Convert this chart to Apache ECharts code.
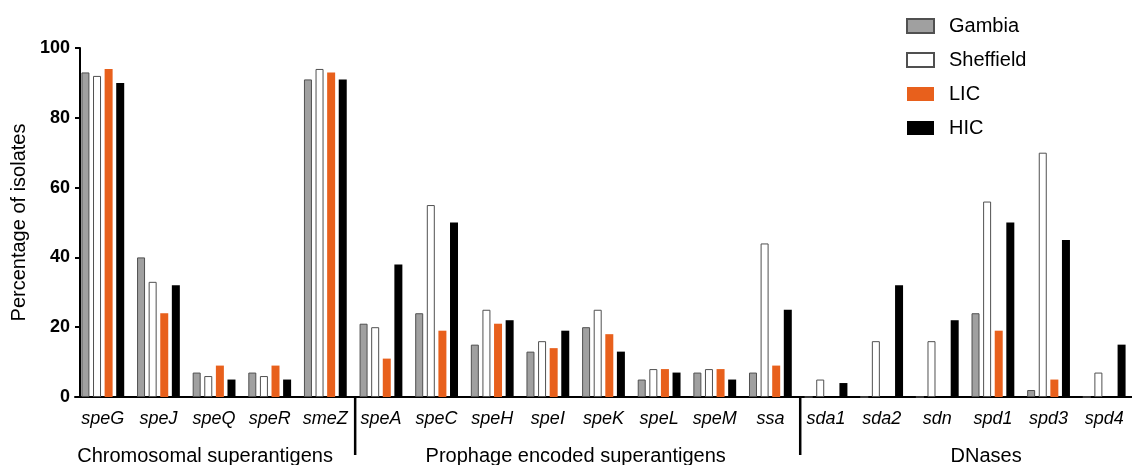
<!DOCTYPE html>
<html><head><meta charset="utf-8">
<script src="https://cdn.jsdelivr.net/npm/echarts@6/dist/echarts.min.js"></script>
<style>html,body{margin:0;padding:0;background:#fff}#c{width:1132px;height:465px}</style>
</head><body><div id="c"></div>
<script>
const categories = ['speG','speJ','speQ','speR','smeZ','speA','speC','speH','speI','speK','speL','speM','ssa','sda1','sda2','sdn','spd1','spd3','spd4'];
const gambia    = [93,40,7,7,91,21,24,15,13,20,5,7,7,0,0,0,24,2,0];
const sheffield = [92,33,6,6,94,20,55,25,16,25,8,8,44,5,16,16,56,70,7];
const lic       = [94,24,9,9,93,11,19,21,14,18,8,8,9,0,0,0,19,5,0];
const hic       = [90,32,5,5,91,38,50,22,19,13,7,5,25,4,32,22,50,45,15];
const yTicks = [0,20,40,60,80,100];
const groupNames = ['Chromosomal superantigens','Prophage encoded superantigens','DNases'];
const groupFrom = [0,5,13];
const groupTo = [4,12,18];
const groupDx = [-9,0,21];

const FONT = "'Liberation Sans', Arial, sans-serif";
const chart = echarts.init(document.getElementById('c'));
function mk(name, data, style){
  return {name, type:'bar', data, barWidth:8, barGap:'45%', itemStyle:style, animation:false};
}
chart.setOption({
  animation:false,
  textStyle:{fontFamily:FONT},
  grid:{left:75, top:48, bottom:68, width:1061, containLabel:false},
  legend:{orient:'vertical', left:901, top:11, itemWidth:27, itemHeight:14, itemGap:14,
    icon:'rect', textStyle:{fontSize:20, color:'#000', fontFamily:FONT, padding:[0,0,0,10]},
    data:['Gambia','Sheffield','LIC','HIC']},
  xAxis:{type:'category', data:categories,
    axisLine:{lineStyle:{color:'#000', width:2}},
    axisTick:{alignWithLabel:true, length:7, lineStyle:{color:'#000', width:2}},
    axisLabel:{fontSize:18, fontStyle:'italic', color:'#000', margin:13, interval:0, fontFamily:FONT}},
  yAxis:{type:'value', min:0, max:100, interval:20, offset:-5,
    name:'Percentage of isolates', nameLocation:'middle', nameGap:42, nameRotate:90,
    nameTextStyle:{fontSize:20, color:'#000', fontFamily:FONT},
    axisLine:{show:true, lineStyle:{color:'#000', width:2}},
    axisTick:{show:true, length:5, lineStyle:{color:'#000', width:2}},
    splitLine:{show:false},
    axisLabel:{fontSize:18, fontWeight:'bold', color:'#000', margin:10, fontFamily:FONT,
      formatter:v=>yTicks.includes(v)?String(v):''}},
  series:[
    mk('Gambia', gambia, {color:'#a0a0a0', borderColor:'#505050', borderWidth:1}),
    mk('Sheffield', sheffield, {color:'#ffffff', borderColor:'#505050', borderWidth:1}),
    mk('LIC', lic, {color:'#e8601c'}),
    mk('HIC', hic, {color:'#000000'})
  ]
});
const y0 = chart.convertToPixel({yAxisIndex:0}, 0);
const px = i => chart.convertToPixel({xAxisIndex:0}, i);
const g = [];
for (let k=0;k<groupNames.length;k++){
  const cx = (px(groupFrom[k]) + px(groupTo[k]))/2 + groupDx[k];
  g.push({type:'text', x:cx, y:y0+59, style:{text:groupNames[k], font:'20px '+FONT, fill:'#000', align:'center', verticalAlign:'middle'}});
  if (k>0){
    const bx = (px(groupFrom[k]-1) + px(groupFrom[k]))/2 + 2;
    g.push({type:'line', shape:{x1:bx, y1:y0, x2:bx, y2:y0+58}, style:{stroke:'#000', lineWidth:2.5}});
  }
}
chart.setOption({graphic:g});
</script></body></html>
